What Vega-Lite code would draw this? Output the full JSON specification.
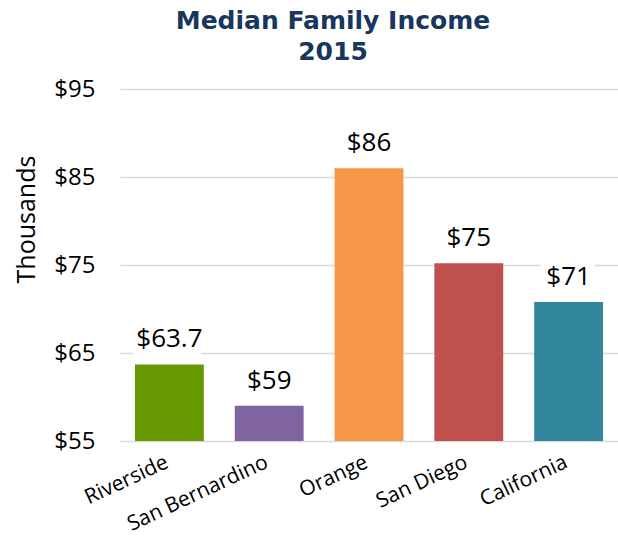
{
  "$schema": "https://vega.github.io/schema/vega-lite/v6.json",
  "width": 618,
  "height": 539,
  "autosize": {"type": "fit", "contains": "padding"},
  "padding": {"left": 14, "top": 9, "right": 0, "bottom": 4},
  "background": "white",
  "title": {
    "text": ["Median Family Income", "2015"],
    "fontSize": 25,
    "fontWeight": "bold",
    "font": "DejaVu Sans",
    "color": "#17375E",
    "anchor": "middle",
    "lineHeight": 31,
    "offset": 12,
    "dx": -36
  },
  "data": {
    "values": [
      {"region": "Riverside", "income": 63.7, "label": "$63.7"},
      {"region": "San Bernardino", "income": 59.0, "label": "$59"},
      {"region": "Orange", "income": 86.0, "label": "$86"},
      {"region": "San Diego", "income": 75.2, "label": "$75"},
      {"region": "California", "income": 70.8, "label": "$71"}
    ]
  },
  "encoding": {
    "x": {
      "field": "region",
      "type": "nominal",
      "sort": null,
      "scale": {"paddingInner": 0.31, "paddingOuter": 0.15},
      "axis": {
        "title": null,
        "labelAngle": -25,
        "labelAlign": "right",
        "labelBaseline": "top",
        "labelFontSize": 21,
        "labelFont": "Open Sans",
        "labelColor": "#000000",
        "labelPadding": 10,
        "labelOffset": -7,
        "ticks": false,
        "domain": false
      }
    },
    "y": {
      "field": "income",
      "type": "quantitative",
      "scale": {"domain": [55, 95], "nice": false, "zero": false},
      "axis": {
        "title": "Thousands",
        "titleFontSize": 25,
        "titleFont": "Open Sans",
        "titleFontWeight": "normal",
        "titleColor": "#000000",
        "titlePadding": 14,
        "titleY": 130,
        "values": [55, 65, 75, 85, 95],
        "labelExpr": "'$' + datum.value",
        "labelFontSize": 24,
        "labelFont": "Open Sans",
        "labelColor": "#000000",
        "labelPadding": 25,
        "ticks": false,
        "domain": false,
        "gridColor": "#D9D9D9",
        "gridWidth": 1.5
      }
    }
  },
  "layer": [
    {
      "mark": {"type": "bar", "clip": true},
      "encoding": {
        "y2": {"datum": 55},
        "color": {
          "field": "region",
          "type": "nominal",
          "sort": null,
          "scale": {
            "domain": ["Riverside", "San Bernardino", "Orange", "San Diego", "California"],
            "range": ["#669900", "#8064A2", "#F79646", "#C0504D", "#31859C"]
          },
          "legend": null
        }
      }
    },
    {
      "mark": {"type": "text", "baseline": "alphabetic", "dy": -17, "fontSize": 26, "font": "Open Sans", "stroke": "white", "strokeWidth": 18, "fill": "white"},
      "encoding": {"text": {"field": "label"}}
    },
    {
      "mark": {"type": "text", "baseline": "alphabetic", "dy": -17, "fontSize": 26, "font": "Open Sans", "color": "#000000"},
      "encoding": {"text": {"field": "label"}}
    }
  ],
  "config": {"view": {"stroke": null}}
}
